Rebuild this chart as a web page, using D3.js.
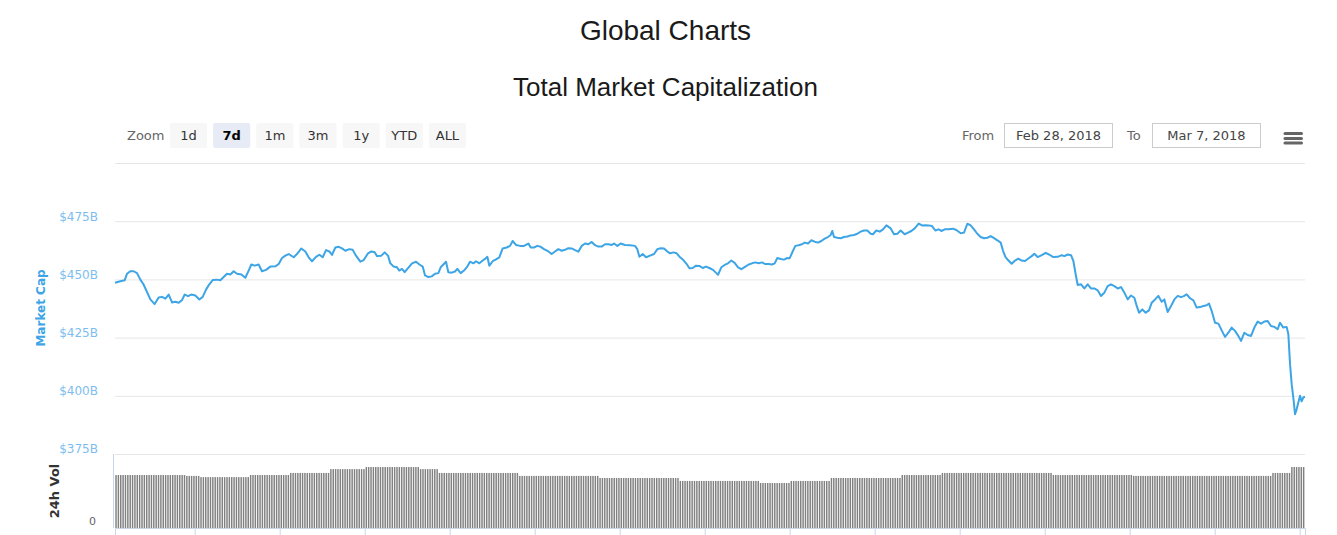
<!DOCTYPE html>
<html>
<head>
<meta charset="utf-8">
<script src="https://cdn.jsdelivr.net/npm/d3@7"></script>
<style>
  html, body { margin: 0; padding: 0; background: #fff; }
  svg { display: block; }
</style>
</head>
<body>
<svg id="chart" width="1337" height="535"></svg>
<script>
// ---------------- DATA ----------------
const chartTitle = "Global Charts";
const chartSubtitle = "Total Market Capitalization";
const zoomButtons = ["1d", "7d", "1m", "3m", "1y", "YTD", "ALL"];
const selectedZoom = "7d";
const fromLabel = "Feb 28, 2018";
const toLabel = "Mar 7, 2018";
const rangeStartUTC = Date.UTC(2018, 1, 28, 12, 45);   // first sample
const rangeHours = 168;

const priceTicks = [375, 400, 425, 450, 475, 500];        // $B
const volumeTicks = [0];

// hours since range start
const priceHours = [
  0,0.75,1.36,1.69,2.16,2.64,3.11,3.58,4.05,4.52,4.99,5.60,6.16,6.64,7.11,7.58,8.05,8.52,8.99,9.46,
  9.84,10.31,10.78,11.34,11.91,12.38,12.85,13.32,13.79,14.40,14.87,15.34,15.81,16.28,16.75,17.22,17.84,18.40,18.87,19.25,
  19.72,20.28,20.75,21.32,21.93,22.64,23.11,23.58,24.05,24.52,25.22,25.69,26.31,26.87,27.34,27.81,28.38,28.85,29.32,29.79,
  30.26,30.64,31.11,31.58,32.05,32.52,33.08,33.55,34.02,34.64,35.11,35.72,36.19,36.66,36.99,37.60,38.07,38.54,38.87,39.34,
  39.81,40.14,40.52,40.89,41.46,41.93,
  42.50,42.97,43.44,43.77,44.24,44.71,45.18,45.65,45.98,46.36,46.73,47.06,47.53,48.00,48.33,48.80,49.27,49.74,50.12,50.59,
  50.97,51.44,51.91,52.24,52.57,52.85,53.32,53.79,54.26,54.73,55.30,55.77,56.14,56.61,57.18,57.74,58.36,58.69,59.16,59.63,
  60.10,60.57,61.18,61.65,62.12,62.59,63.06,63.53,64.00,64.47,64.94,65.41,65.89,66.36,66.83,67.30,67.77,68.24,68.71,69.18,
  69.65,70.12,70.45,70.92,71.39,72.00,72.71,73.41,73.74,74.03,74.50,74.97,75.53,76.10,76.57,77.04,77.51,77.98,78.36,78.83,
  79.30,79.77,80.24,80.71,81.09,81.56,82.03,82.50,82.97,83.44,83.91,
  84.43,84.90,85.13,85.60,86.07,86.54,87.01,87.48,87.96,88.43,88.99,89.46,89.93,90.40,90.87,91.34,91.81,92.28,92.76,93.13,
  93.51,93.98,94.45,94.92,95.25,95.72,96.05,96.52,96.99,97.37,97.84,98.31,98.78,99.25,99.72,100.19,100.66,101.04,101.27,101.51,
  101.98,102.45,102.92,103.39,103.86,104.33,104.80,105.27,105.74,106.21,106.68,107.01,107.48,107.96,108.43,108.90,109.51,109.98,110.45,110.92,
  111.48,111.96,112.43,112.90,113.46,113.93,114.40,114.87,115.34,115.81,116.28,116.66,117.13,117.70,118.31,118.78,119.39,119.86,120.33,120.80,
  121.27,121.74,122.21,122.68,123.16,123.63,124.10,124.57,125.04,125.37,125.70,126.07,
  126.59,127.06,127.53,128.00,128.47,128.94,129.41,129.79,130.26,130.83,131.39,131.86,132.47,133.09,133.65,134.03,134.50,134.97,135.30,135.63,
  135.91,136.38,136.85,137.32,137.79,138.26,138.73,139.20,139.67,140.14,140.61,141.09,141.56,142.03,142.50,142.97,143.44,143.91,144.24,144.57,
  145.04,145.51,145.98,146.36,146.83,147.30,147.77,148.14,148.61,149.09,149.56,150.03,150.50,150.97,151.30,151.77,152.24,152.71,153.18,153.65,
  154.12,154.45,154.83,155.30,155.77,156.24,156.71,157.18,157.65,158.12,158.59,158.97,159.44,159.91,160.38,160.85,161.32,161.79,162.26,162.73,
  163.20,163.67,164.14,164.47,164.94,165.41,165.65,165.89,166.12,166.40,166.59,166.83,167.06,167.30,167.53,167.77,168.00
];
// total market cap, $B
const priceValues = [
  448.6,449.2,449.6,452.4,453.5,453.5,452.7,449.9,447.7,444.6,441.4,439.4,442.2,442.5,441.7,443.5,440.1,440.4,440.0,441.1,
  443.5,442.8,443.5,443.1,441.4,442.5,445.6,447.9,449.7,449.9,449.6,451.0,452.4,452.1,453.5,452.4,452.1,450.7,453.8,456.4,
  455.9,456.4,453.5,454.1,455.5,455.6,456.6,459.2,460.2,460.9,459.5,460.9,463.3,462.0,459.5,457.8,459.7,460.6,459.5,462.6,
  462.0,460.5,463.7,464.0,463.3,462.3,463.0,462.7,460.2,457.6,458.3,461.2,462.0,461.7,460.0,460.2,461.6,460.2,456.9,455.5,
  455.2,453.8,454.5,453.1,455.2,456.9,
  457.6,456.4,455.5,451.7,451.0,451.3,452.4,452.7,455.2,456.4,457.6,453.1,452.9,453.4,454.5,452.7,453.8,455.5,457.6,456.9,
  457.8,456.9,458.1,458.8,459.7,455.9,457.8,458.6,459.5,463.3,463.7,464.4,466.5,464.8,464.4,464.4,465.4,463.7,463.7,464.4,
  464.0,463.0,462.0,460.9,462.0,463.0,462.3,462.7,463.4,463.3,462.6,461.9,464.4,465.4,465.1,466.1,464.7,464.1,464.1,465.1,
  465.1,464.8,465.4,464.4,465.4,464.8,464.7,464.4,463.0,459.7,460.9,459.5,460.2,460.9,463.0,463.4,463.3,462.0,461.2,461.6,
  461.2,459.5,458.3,456.6,454.8,454.9,455.9,455.8,454.9,455.5,454.9,
  454.1,452.7,452.0,455.2,456.2,456.9,458.1,457.1,455.2,454.4,455.5,456.4,456.9,457.3,456.9,457.3,456.6,456.6,456.4,456.9,
  459.2,458.8,458.5,459.2,459.1,462.3,464.4,464.7,465.1,465.8,465.4,466.8,466.2,465.8,466.5,467.5,468.2,469.1,470.8,468.2,
  467.9,467.7,468.2,468.4,468.9,469.1,469.6,470.5,471.0,471.0,469.6,469.4,471.0,470.5,471.5,473.2,471.9,469.4,469.6,471.0,
  469.4,470.1,470.8,471.9,474.0,473.2,473.3,473.2,472.9,471.0,471.5,470.8,471.5,471.5,471.8,471.2,469.8,470.1,473.9,473.2,
  471.5,469.6,468.2,467.7,467.9,468.6,467.7,466.8,465.8,462.3,459.7,458.3,
  456.7,458.1,458.9,458.1,457.9,459.0,460.0,461.0,459.6,460.4,461.4,460.7,459.6,459.7,460.4,460.0,460.7,460.4,457.9,452.1,
  447.6,447.9,446.1,447.9,446.1,446.1,445.3,442.9,444.3,447.1,447.9,447.1,446.1,446.7,444.3,441.4,443.1,442.1,438.6,435.7,
  437.1,435.7,436.7,440.0,441.4,442.9,440.4,441.4,436.0,438.6,441.4,442.9,442.4,442.9,443.6,441.9,441.0,437.9,438.1,438.6,
  438.9,439.6,436.4,431.4,431.0,428.1,425.3,427.1,429.3,427.9,425.7,423.6,427.1,426.1,425.7,429.3,431.9,431.0,431.9,432.1,
  430.0,429.6,428.6,431.4,429.3,429.6,426.4,413.6,405.0,397.9,392.1,394.3,397.1,400.0,397.6,399.3,399.6
];

// 24h volume ($B), read as runs of equal-height bars: [number of bars, value]
const volumeMinutesPerBar = 20;
const volumeRuns = [
  [30,17.9],[6,17.6],[21,17.2],[17,17.9],[17,18.6],[15,19.9],[23,20.6],[8,19.9],[34,18.6],[34,17.6],
  [34,16.9],[34,15.9],[13,15.2],[17,15.9],[30,16.9],[17,17.9],[47,18.6],[34,17.9],[59,17.6],[8,18.6],[6,20.6]
];

// ---------------- DRAW ----------------
const svg = d3.select("#chart");
const plotLeft = 115, plotRight = 1305;
const priceTop = 163, priceBottom = 454;
const volTop = 454, volBottom = 528;
const blue = "#3da5e5";
const uiFont = "'DejaVu Sans', Verdana, sans-serif";
const titleFont = "'Liberation Sans', Arial, Helvetica, sans-serif";

// titles
svg.append("text").attr("x", 665.5).attr("y", 40).attr("text-anchor", "middle")
  .attr("font-family", titleFont).attr("font-size", 28).attr("fill", "#1a1a1a").text(chartTitle);
svg.append("text").attr("x", 665.5).attr("y", 96).attr("text-anchor", "middle")
  .attr("font-family", titleFont).attr("font-size", 26).attr("fill", "#1a1a1a").text(chartSubtitle);

// range selector
svg.append("text").attr("x", 127).attr("y", 140).attr("font-family", uiFont).attr("font-size", 13)
  .attr("fill", "#666").text("Zoom");
const btnX = d3.scaleBand().domain(zoomButtons).range([170, 466]).paddingInner(0.14).paddingOuter(0);
const btn = svg.append("g").selectAll("g").data(zoomButtons).join("g")
  .attr("transform", d => `translate(${btnX(d)},123)`);
btn.append("rect").attr("width", btnX.bandwidth()).attr("height", 25).attr("rx", 2)
  .attr("fill", d => d === selectedZoom ? "#e6ebf5" : "#f7f7f7");
btn.append("text").attr("x", btnX.bandwidth() / 2).attr("y", 17).attr("text-anchor", "middle")
  .attr("font-family", uiFont).attr("font-size", 13)
  .attr("font-weight", d => d === selectedZoom ? "bold" : "normal")
  .attr("fill", d => d === selectedZoom ? "#000" : "#333").text(d => d);

// date inputs
svg.append("text").attr("x", 962).attr("y", 140).attr("font-family", uiFont).attr("font-size", 13)
  .attr("fill", "#666").text("From");
svg.append("rect").attr("x", 1004.5).attr("y", 123.5).attr("width", 108).attr("height", 24)
  .attr("fill", "#fff").attr("stroke", "#ccc");
svg.append("text").attr("x", 1058.5).attr("y", 140).attr("text-anchor", "middle").attr("font-family", uiFont)
  .attr("font-size", 13).attr("fill", "#444").text(fromLabel);
svg.append("text").attr("x", 1127).attr("y", 140).attr("font-family", uiFont).attr("font-size", 13)
  .attr("fill", "#666").text("To");
svg.append("rect").attr("x", 1152.5).attr("y", 123.5).attr("width", 108).attr("height", 24)
  .attr("fill", "#fff").attr("stroke", "#ccc");
svg.append("text").attr("x", 1206.5).attr("y", 140).attr("text-anchor", "middle").attr("font-family", uiFont)
  .attr("font-size", 13).attr("fill", "#444").text(toLabel);

// context menu icon
[133.5, 138.5, 143].forEach(y => {
  svg.append("line").attr("x1", 1285).attr("x2", 1301.5).attr("y1", y).attr("y2", y)
    .attr("stroke", "#666").attr("stroke-width", 3).attr("stroke-linecap", "round");
});

// scales
const t0 = new Date(rangeStartUTC);
const t1 = new Date(rangeStartUTC + rangeHours * 3600e3);
const x = d3.scaleUtc().domain([t0, t1]).range([plotLeft, plotRight]);
const yP = d3.scaleLinear().domain([375, 500]).range([priceBottom, priceTop]);
const yV = d3.scaleLinear().domain([0, 25]).range([volBottom, volTop]);

// price gridlines + labels
const pAxis = svg.append("g").attr("transform", `translate(${plotRight},0)`)
  .call(d3.axisLeft(yP).tickValues(priceTicks).tickSize(plotRight - plotLeft).tickFormat(d => `$${d}B`));
pAxis.select(".domain").remove();
pAxis.selectAll(".tick line").attr("stroke", "#e6e6e6");
pAxis.selectAll(".tick text")
  .attr("x", -(plotRight - 98)).attr("dy", "-0.1em")
  .attr("font-family", uiFont).attr("font-size", 12).attr("fill", "#7dbdf0")
  .attr("text-anchor", "end")
  .style("display", d => d === 500 ? "none" : null);

svg.append("text").attr("transform", "translate(45,308) rotate(-90)").attr("text-anchor", "middle")
  .attr("font-family", uiFont).attr("font-size", 12).attr("font-weight", "bold").attr("fill", blue)
  .text("Market Cap");

// volume bars
const volumeData = [];
volumeRuns.forEach(([n, v]) => { for (let i = 0; i < n; i++) volumeData.push(v); });
const barStep = volumeMinutesPerBar * 60e3;
const barW = x(new Date(rangeStartUTC + barStep)) - x(t0);
svg.append("g").selectAll("rect").data(volumeData).join("rect")
  .attr("x", (d, i) => x(new Date(rangeStartUTC + i * barStep)) + 0.3)
  .attr("width", Math.max(0.5, barW - 0.9))
  .attr("y", d => yV(d)).attr("height", d => yV(0) - yV(d))
  .attr("fill", "#808080");

// volume axis
const vAxis = svg.append("g").attr("transform", `translate(${plotRight},0)`)
  .call(d3.axisLeft(yV).tickValues([25]).tickSize(plotRight - plotLeft).tickFormat(""));
vAxis.select(".domain").remove();
vAxis.selectAll(".tick line").attr("stroke", "#e6e6e6");
svg.append("text").attr("x", 96).attr("y", yV(0) - 3).attr("text-anchor", "end")
  .attr("font-family", uiFont).attr("font-size", 11).attr("fill", "#666").text(volumeTicks[0]);
svg.append("line").attr("x1", 113.5).attr("x2", 113.5).attr("y1", volTop).attr("y2", volBottom)
  .attr("stroke", "#ccd6eb");
svg.append("text").attr("transform", "translate(59,491) rotate(-90)").attr("text-anchor", "middle")
  .attr("font-family", uiFont).attr("font-size", 13).attr("font-weight", "bold").attr("fill", "#333")
  .text("24h Vol");

// x axis (ticks only, labels fall outside the view)
const xAxis = svg.append("g").attr("transform", `translate(0,${volBottom})`)
  .call(d3.axisBottom(x).ticks(d3.utcHour.every(12)).tickSize(8).tickFormat(""));
xAxis.select(".domain").attr("stroke", "#ccd6eb");
xAxis.selectAll(".tick line").attr("stroke", "#ccd6eb");

// price line
const priceData = priceHours.map((h, i) => ({ t: new Date(rangeStartUTC + h * 3600e3), v: priceValues[i] }));
svg.append("path").datum(priceData)
  .attr("fill", "none").attr("stroke", blue).attr("stroke-width", 2).attr("stroke-linejoin", "round")
  .attr("d", d3.line().x(d => x(d.t)).y(d => yP(d.v)));
</script>
</body>
</html>
